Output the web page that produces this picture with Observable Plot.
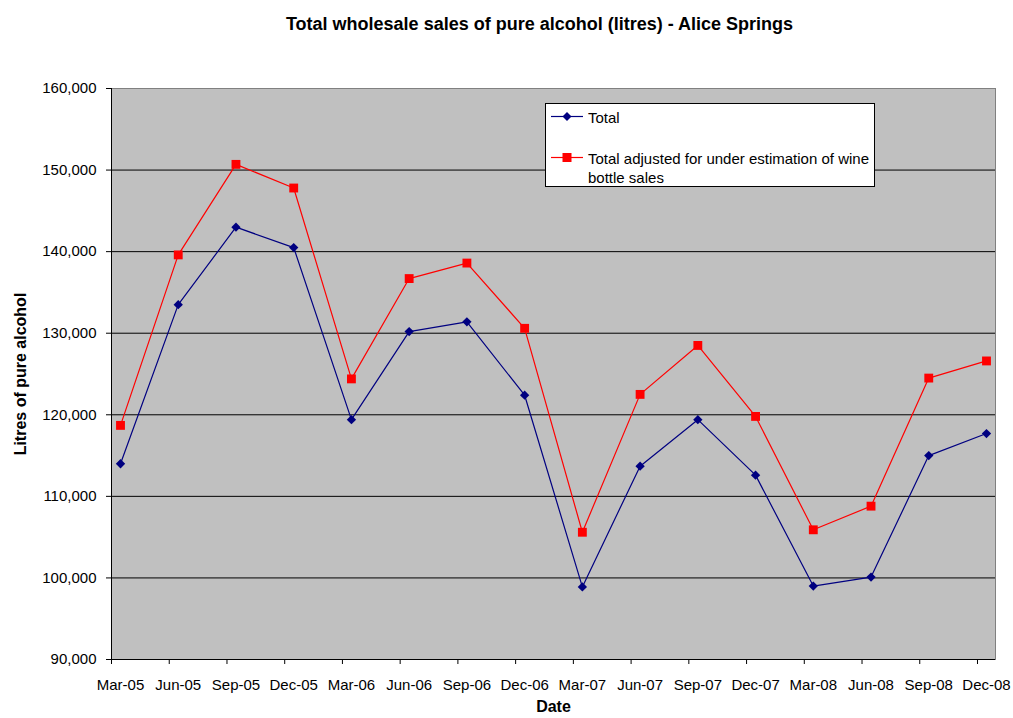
<!DOCTYPE html>
<html>
<head>
<meta charset="utf-8">
<script src="https://cdn.jsdelivr.net/npm/d3@7"></script>
<script src="https://cdn.jsdelivr.net/npm/@observablehq/plot@0.6"></script>
<style>
  body { margin: 0; background: #fff; font-family: Arial, "Liberation Sans", sans-serif; }
  #wrap { position: relative; width: 1013px; height: 718px; }
  #title { position: absolute; left: 0; top: 13px; width: 1013px; padding-left: 66px; box-sizing: border-box;
           text-align: center; font-weight: bold; font-size: 18px; line-height: 22px; color: #000; }
  #chart { position: absolute; left: 0; top: 40px; }
  #legend { position: absolute; left: 545px; top: 103px; width: 330px; height: 84px; box-sizing: border-box;
            border: 1px solid #000; background: #fff; font-size: 15px; color: #000; }
  .item { position: absolute; left: 5px; display: flex; align-items: flex-start; }
  .item svg { flex: none; }
  .item span { margin-left: 5px; line-height: 19px; }
</style>
</head>
<body>
<div id="wrap">
  <div id="title">Total wholesale sales of pure alcohol (litres) - Alice Springs</div>
  <div id="chart"></div>
  <div id="legend"></div>
</div>
<script>
const dates = ["Mar-05","Jun-05","Sep-05","Dec-05","Mar-06","Jun-06","Sep-06","Dec-06",
               "Mar-07","Jun-07","Sep-07","Dec-07","Mar-08","Jun-08","Sep-08","Dec-08"];
const total = [114000,133500,143000,140500,119400,130200,131400,122400,
               98900,113700,119400,112600,99000,100100,115000,117700];
const adjusted = [118700,139600,150700,147800,124400,136700,138600,130600,
                  105600,122500,128500,119800,105900,108800,124500,126600];
const seriesNames = ["Total", "Total adjusted for under estimation of wine bottle sales"];
const yTicks = [90000,100000,110000,120000,130000,140000,150000,160000];
const yLabel = "Litres of pure alcohol";
const xLabel = "Date";

const rows1 = dates.map((d, i) => ({date: d, value: total[i]}));
const rows2 = dates.map((d, i) => ({date: d, value: adjusted[i]}));

const navy = "#000080", red = "#FF0000";
const font = "Arial, 'Liberation Sans', sans-serif";

const chart = Plot.plot({
  width: 1013,
  height: 678,
  marginLeft: 111,
  marginRight: 18,
  marginTop: 48,
  marginBottom: 59,
  style: {fontFamily: font, color: "#000", background: "transparent"},
  x: {type: "point", domain: dates, padding: 0.156, round: false},
  y: {domain: [90000, 160000]},
  marks: [
    Plot.frame({fill: "#C0C0C0", stroke: null}),
    Plot.gridY(yTicks.slice(1), {stroke: "#000", strokeOpacity: 1, strokeWidth: 1}),
    Plot.frame({stroke: "#808080", strokeWidth: 1}),
    Plot.ruleX([dates[0]], {dx: -9, stroke: "#000"}),
    Plot.ruleY([90000], {stroke: "#000"}),
    Plot.axisY(yTicks, {tickFormat: d3.format(","), tickSize: 5, tickPadding: 10, fontSize: 15, label: null}),
    Plot.axisX({tickSize: 5, dx: -9, tickFormat: () => "", label: null}),
    Plot.axisX({tickSize: 0, tickPadding: 20, fontSize: 15, label: null}),
    Plot.text([yLabel], {frameAnchor: "left", textAnchor: "middle", rotate: -90, dx: -91, fontWeight: "bold", fontSize: 16, letterSpacing: "0.3px"}),
    Plot.text([xLabel], {frameAnchor: "bottom", dy: 52, fontWeight: "bold", fontSize: 16, letterSpacing: "0.3px"}),
    Plot.line(rows1, {x: "date", y: "value", stroke: navy, strokeWidth: 1.2}),
    Plot.line(rows2, {x: "date", y: "value", stroke: red, strokeWidth: 1.2}),
    Plot.dot(rows1, {x: "date", y: "value", symbol: "diamond2", r: 4.2, fill: navy, stroke: null}),
    Plot.dot(rows2, {x: "date", y: "value", symbol: "square", r: 5, fill: red, stroke: null})
  ]
});
document.getElementById("chart").appendChild(chart);

// legend
function marker(color, shape) {
  const s = shape === "diamond"
    ? `<path d="M16,4 L20.5,8.5 L16,13 L11.5,8.5 Z" fill="${color}"/>`
    : `<rect x="11.5" y="4" width="9" height="9" fill="${color}"/>`;
  return `<svg width="32" height="17"><line x1="0" x2="32" y1="8.5" y2="8.5" stroke="${color}" stroke-width="1.2"/>${s}</svg>`;
}
const legend = document.getElementById("legend");
legend.innerHTML =
  `<div class="item" style="top:4px">${marker(navy, "diamond")}<span>${seriesNames[0]}</span></div>` +
  `<div class="item" style="top:45px">${marker(red, "square")}<span>Total adjusted for under estimation of wine<br>bottle sales</span></div>`;
</script>
</body>
</html>
